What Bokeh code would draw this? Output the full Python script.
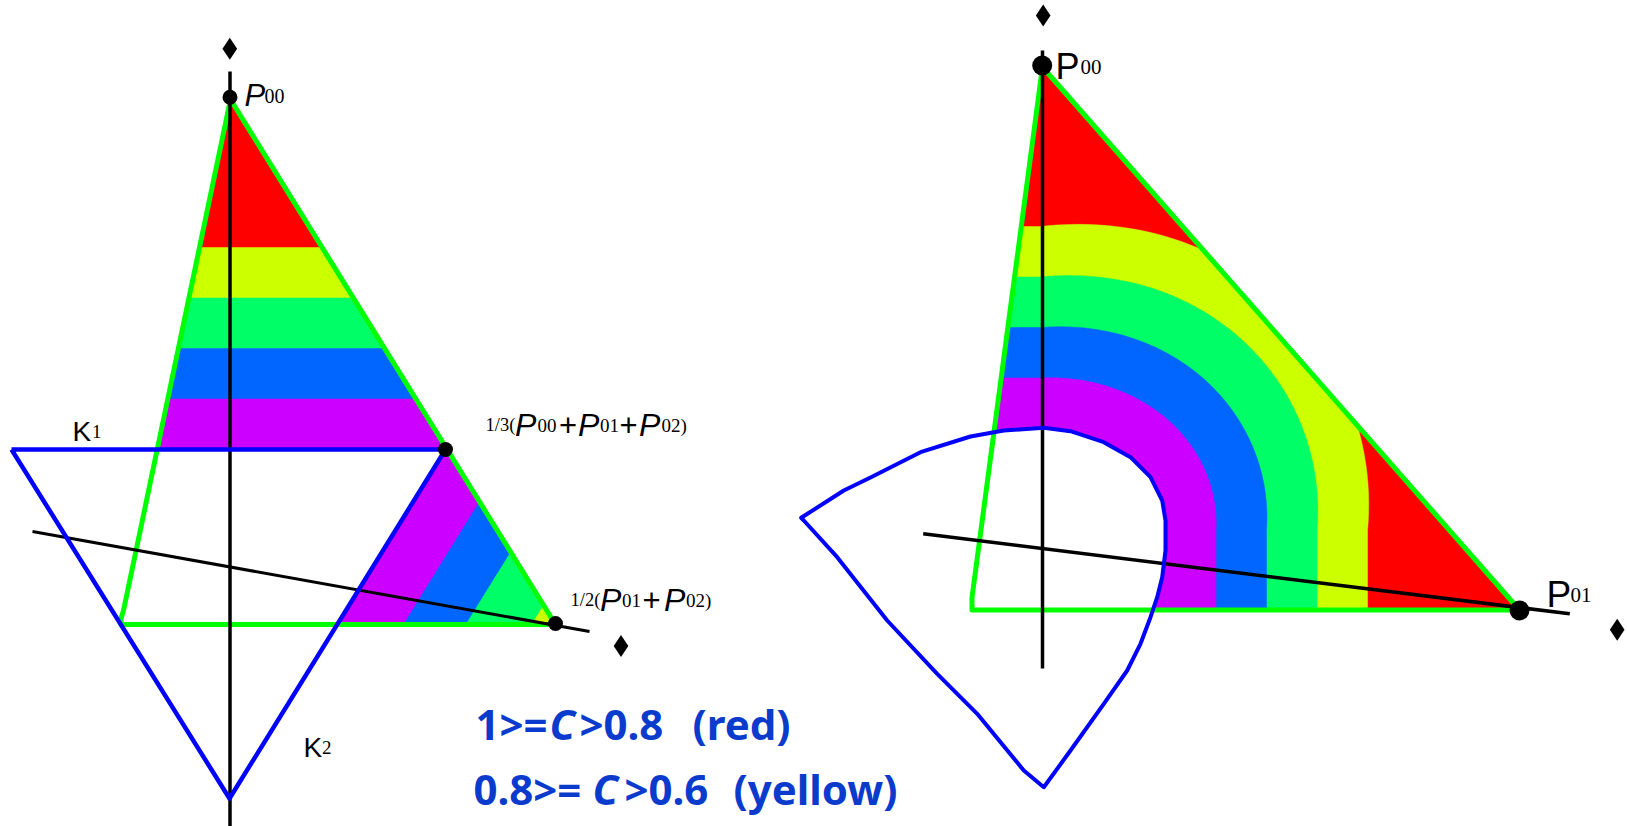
import numpy as np
from bokeh.plotting import figure
from bokeh.models import Range1d
from bokeh.core.properties import value
from bokeh.embed import file_html
from bokeh.resources import INLINE

W, H = 1627, 826

# ---- C classes, outermost (highest C) first ----
band_colors = ["#ff0000", "#ccff00", "#00ff66", "#0066ff", "#cc00ff"]  # red, yellow, green, blue, purple
band_step = 50.5                      # width of one C class measured from K
k2_offsets = [220, 165, 109, 56]      # class edges measured from the K2 side (left panel)

# ---- left panel: triangle P00 / 1/3(...) / 1/2(...) ----
left_tri = [(230.0, 99.0), (121.0, 624.0), (555.0, 624.0)]
left_tri_line_x = [230.0, 123.0, 120.5, 120.5, 555.0, 230.0]
left_tri_line_y = [99.0, 610.0, 618.0, 624.0, 624.0, 99.0]
k_x = [11.0, 445.0, 229.0, 11.0]      # K1 (top side) and K2 (the two lower sides)
k_y = [449.0, 449.0, 798.0, 449.0]
left_axis_x, left_axis_y = [229.5, 229.5], [71.0, 826.0]
left_slant_x, left_slant_y = [32.0, 589.0], [531.0, 631.0]
left_pts_x = [229.5, 445.0, 555.0]
left_pts_y = [96.7, 449.0, 623.0]
left_marks_x, left_marks_y = [229.3, 620.5], [48.3, 645.4]

# ---- right panel: triangle P00 / P01 with the image of K ----
right_tri = [(1042.0, 70.0), (971.5, 609.5), (1519.0, 609.5)]
right_tri_line_x = [1041.5, 971.5, 971.5, 1519.0, 1045.0]
right_tri_line_y = [70.0, 597.0, 609.5, 609.5, 70.0]
hole_x = [1003.3, 1043.3, 1070.0, 1103.3, 1130.0, 1150.0, 1161.7, 1165.0, 1165.0, 1161.7,
          1156.7, 1150.0, 1140.0, 1126.7, 1103.3, 1070.0, 1043.3, 1023.3, 976.7, 936.7,
          886.7, 836.7, 803.3, 800.7, 843.3, 870.0, 920.0, 970.0, 1003.3]
hole_y = [430.0, 427.3, 430.7, 441.7, 456.7, 476.7, 500.0, 520.0, 550.0, 576.7,
          596.7, 616.7, 643.3, 670.0, 703.3, 750.0, 786.7, 770.0, 713.3, 673.3,
          620.0, 556.7, 520.0, 517.3, 490.0, 477.0, 451.7, 436.0, 430.0]
hole_core = dict(cx=1040.0, cy=530.0, rx=125.0, ry=102.0)   # rounded corner of the hole
diag_bulge = 0.08                                           # classes widen towards the diagonal
right_axis_x, right_axis_y = [1042.0, 1042.0], [50.0, 668.0]
right_slant_x, right_slant_y = [922.7, 1569.3], [533.3, 613.3]
right_pts_x, right_pts_y = [1041.7, 1519.0], [65.0, 610.0]
right_marks_x, right_marks_y = [1042.7, 1616.7], [15.0, 629.3]

SANS, SERIF, NOTE = "Liberation Sans", "Liberation Serif", "Noto Sans"
# label pieces: (text, x, baseline y, font, size, style)
labels = [
    ("P", 244.0, 95.0, SANS, 31, "italic"), ("00", 264.0, 95.0, SERIF, 20, "normal"),
    ("K", 72.0, 431.0, SANS, 28, "normal"), ("1", 91.5, 431.0, SERIF, 19, "normal"),
    ("K", 303.0, 747.0, SANS, 28, "normal"), ("2", 321.5, 747.0, SERIF, 19, "normal"),
    ("1/3(", 485.0, 424.5, SERIF, 18.5, "normal"), ("P", 514.5, 424.5, SANS, 32, "italic"),
    ("00", 537.0, 424.5, SERIF, 19, "normal"), ("+", 558.5, 424.5, SANS, 31, "normal"),
    ("P", 577.5, 424.5, SANS, 32, "italic"), ("01", 599.5, 424.5, SERIF, 19, "normal"),
    ("+", 619.0, 424.5, SANS, 31, "normal"), ("P", 638.5, 424.5, SANS, 32, "italic"),
    ("02)", 661.0, 424.5, SERIF, 19, "normal"),
    ("1/2(", 570.0, 599.5, SERIF, 18.5, "normal"), ("P", 599.5, 599.5, SANS, 32, "italic"),
    ("01", 621.5, 599.5, SERIF, 19, "normal"), ("+", 642.0, 599.5, SANS, 31, "normal"),
    ("P", 663.5, 599.5, SANS, 32, "italic"), ("02)", 685.5, 599.5, SERIF, 19, "normal"),
    ("P", 1055.0, 66.0, SANS, 36, "normal"), ("00", 1080.0, 66.0, SERIF, 21, "normal"),
    ("P", 1546.0, 594.0, SANS, 37, "normal"), ("01", 1570.0, 594.0, SERIF, 21, "normal"),
]
legend_pieces = [
    ("1>=", 475.0, 723.0, "bold"), ("C", 549.0, 723.0, "bold italic"),
    (">0.8", 579.0, 723.0, "bold"), ("(red)", 692.0, 723.0, "bold"),
    ("0.8>=", 473.0, 788.0, "bold"), ("C", 592.0, 788.0, "bold italic"),
    (">0.6", 624.0, 788.0, "bold"), ("(yellow)", 733.0, 788.0, "bold"),
]
legend_color = "#0b3bcc"


def clip_halfplane(poly, a, b, c):
    """Keep the part of poly with a*x + b*y <= c."""
    out = []
    n = len(poly)
    for i in range(n):
        p, q = poly[i], poly[(i + 1) % n]
        fp = a * p[0] + b * p[1] - c
        fq = a * q[0] + b * q[1] - c
        if fp <= 0:
            out.append(p)
        if (fp <= 0) != (fq <= 0):
            t = fp / (fp - fq)
            out.append((p[0] + t * (q[0] - p[0]), p[1] + t * (q[1] - p[1])))
    return out


def clip_convex(poly, region):
    gx = sum(v[0] for v in region) / len(region)
    gy = sum(v[1] for v in region) / len(region)
    for i in range(len(region)):
        A, B = region[i], region[(i + 1) % len(region)]
        a, b = B[1] - A[1], -(B[0] - A[0])
        c = a * A[0] + b * A[1]
        if a * gx + b * gy > c:
            a, b, c = -a, -b, -c
        poly = clip_halfplane(poly, a, b, c)
    return poly


def draw_poly(p, poly, color):
    if len(poly) >= 3:
        p.patch([v[0] for v in poly], [v[1] for v in poly], fill_color=color, line_color=color, line_width=0.5)


p = figure(width=W, height=H, x_range=Range1d(0, W), y_range=Range1d(H, 0),
           x_axis_type=None, y_axis_type=None, output_backend="svg",
           toolbar_location=None, min_border=0)
p.grid.visible = False
p.outline_line_color = None
p.background_fill_color = "white"

# ---- left panel C classes: offsets of K1 (horizontal) and K2 (slanted side) ----
P = np.array([k_x[1], k_y[1]])
u = np.array([k_x[2] - k_x[1], k_y[2] - k_y[1]])
u = u / np.hypot(*u)
nrm = np.array([u[1], -u[0]])            # points away from K, to the lower right
draw_poly(p, left_tri, band_colors[0])
for k, col in enumerate(band_colors[1:]):
    d1 = band_step * (4 - k)
    d2 = k2_offsets[k]
    poly = clip_halfplane(list(left_tri), 0.0, -1.0, -(k_y[0] - d1))
    poly = clip_halfplane(poly, nrm[0], nrm[1], nrm @ P + d2)
    draw_poly(p, poly, col)
inner = clip_halfplane(list(left_tri), 0.0, -1.0, -k_y[0])
inner = clip_halfplane(inner, nrm[0], nrm[1], nrm @ P)
draw_poly(p, inner, "white")


# ---- right panel C classes: parallel curves around the hole ----
def offset_region(d):
    cx, cy, rx, ry = hole_core["cx"], hole_core["cy"], hole_core["rx"], hole_core["ry"]
    pts = [(850.0, cy - ry - d)]
    for t in np.linspace(np.pi / 2, 0, 60):
        ex, ey = cx + rx * np.cos(t), cy - ry * np.sin(t)
        nx, ny = np.cos(t) / rx, -np.sin(t) / ry
        ln = np.hypot(nx, ny)
        dd = d * (1 + diag_bulge * np.sin(2 * t))
        pts.append((ex + dd * nx / ln, ey + dd * ny / ln))
    pts += [(cx + rx + d, 700.0), (850.0, 700.0)]
    return pts


draw_poly(p, right_tri, band_colors[0])
for k, col in enumerate(band_colors[1:]):
    draw_poly(p, clip_convex(offset_region(band_step * (4 - k)), right_tri), col)
p.patch(hole_x, hole_y, fill_color="white", line_color=None)

# ---- outlines ----
p.line(left_tri_line_x, left_tri_line_y, line_color="#00ff00", line_width=5, line_join="round")
p.line(right_tri_line_x, right_tri_line_y, line_color="#00ff00", line_width=5, line_join="round")

p.line(left_axis_x, left_axis_y, line_color="black", line_width=3.5)
p.line(left_slant_x, left_slant_y, line_color="black", line_width=3)
p.line(right_axis_x, right_axis_y, line_color="black", line_width=3.5)
p.line(right_slant_x, right_slant_y, line_color="black", line_width=3.5)

p.line(k_x, k_y, line_color="#0000ff", line_width=4.5, line_join="round")
p.line(hole_x, hole_y, line_color="#0000ff", line_width=4, line_join="round")

p.scatter(left_pts_x, left_pts_y, marker="circle", size=15, fill_color="black", line_color=None)
p.scatter(right_pts_x, right_pts_y, marker="circle", size=20, fill_color="black", line_color=None)
p.scatter(left_marks_x + right_marks_x, left_marks_y + right_marks_y, marker="diamond",
          size=22, fill_color="black", line_color=None)

# ---- texts ----
for txt, x, y, font, size, style in labels:
    p.text([x], [y], text=[txt], text_font=value(font), text_font_size=f"{size}px",
           text_font_style=style, text_color="black", text_align="left", text_baseline="alphabetic")
for txt, x, y, style in legend_pieces:
    p.text([x], [y], text=[txt], text_font=value(NOTE), text_font_size="42px",
           text_font_style=style, text_color=legend_color, text_align="left", text_baseline="alphabetic")

open("out.html", "w").write(file_html(p, INLINE))
